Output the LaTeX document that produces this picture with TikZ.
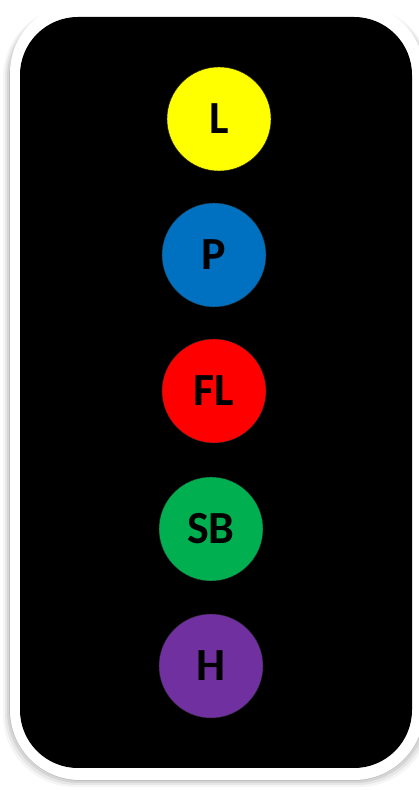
\documentclass[tikz,border=0pt]{standalone}
\usepackage{fontspec}
\setmainfont{Carlito}
\definecolor{lyellow}{HTML}{FFFF00}
\definecolor{pblue}{HTML}{0070C0}
\definecolor{flred}{HTML}{FF0000}
\definecolor{sbgreen}{HTML}{00B050}
\definecolor{hpurple}{HTML}{7030A0}
\tikzset{
  dot/.style={draw=black!85, thin, circle, minimum size=104pt, inner sep=0pt,
    font=\fontsize{46}{46}\selectfont\bfseries},
}
\begin{document}
\begin{tikzpicture}[x=1pt, y=1pt, node distance=136pt]
\useasboundingbox (0,0) rectangle (419,790);
% soft shadow behind the frame
\foreach \s/\o in {7/0.04, 5/0.06, 3/0.08, 1/0.1}
  \fill[black, opacity=\o, rounded corners=72pt] (10-\s,10-\s) rectangle (424+\s,784);
\fill[white, rounded corners=70pt] (10,10) rectangle (424,787);
\fill[black, rounded corners=58pt] (20,22) rectangle (412,773);
\node  (L)[dot, fill=lyellow] at (219,671) {L};
\node  (P)[dot, fill=pblue] [below of = L, xshift=-5pt] {P};
\node  (FL)[dot, fill=flred] [below of = P] {FL};
\node  (SB)[dot, fill=sbgreen] [below of = FL, xshift=-3pt, yshift=-2pt] {SB};
\node  (H)[dot, fill=hpurple] [below of = SB, yshift=-1pt] {H};
\end{tikzpicture}
\end{document}
